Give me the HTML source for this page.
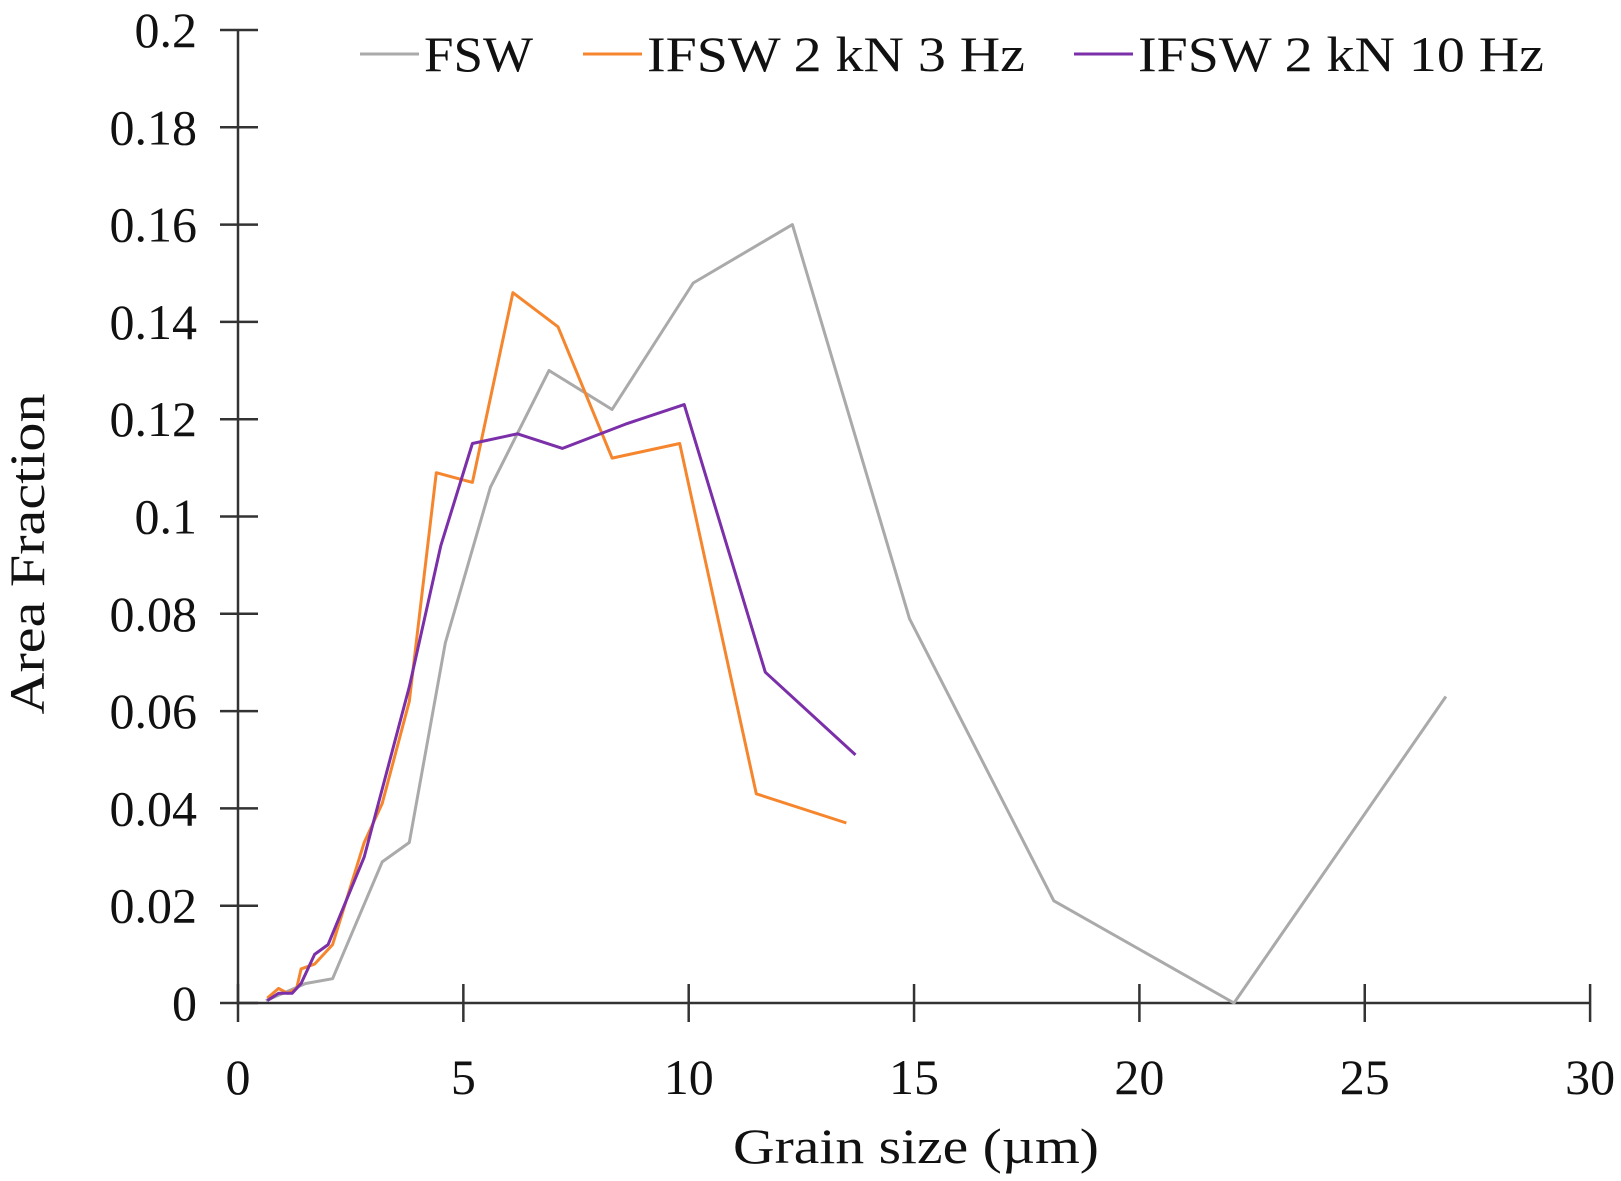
<!DOCTYPE html>
<html><head><meta charset="utf-8"><style>
html,body{margin:0;padding:0;background:#fff}
svg{display:block}
text{font-family:"Liberation Serif",serif;fill:#111}
</style></head><body>
<svg id="s" width="1621" height="1181" viewBox="0 0 1621 1181" xmlns="http://www.w3.org/2000/svg">
<g id="axes" stroke="#333" stroke-width="2.5" fill="none"></g>
<g id="lab" font-size="50"></g>
<g id="ser" fill="none" stroke-width="3" stroke-linejoin="round"></g>
<text x="733" y="1163" font-size="50" textLength="366" lengthAdjust="spacingAndGlyphs">Grain size (µm)</text>
<text transform="translate(44,554) rotate(-90)" font-size="50" text-anchor="middle" textLength="321" lengthAdjust="spacingAndGlyphs">Area Fraction</text>
<line x1="360" y1="54" x2="419" y2="54" stroke="#aaaaaa" stroke-width="3"/>
<text x="424" y="71" font-size="50" textLength="109" lengthAdjust="spacingAndGlyphs">FSW</text>
<line x1="583" y1="54" x2="642" y2="54" stroke="#f5862e" stroke-width="3"/>
<text x="647" y="71" font-size="50" textLength="378" lengthAdjust="spacingAndGlyphs">IFSW 2 kN 3 Hz</text>
<line x1="1074" y1="54" x2="1133" y2="54" stroke="#7b2fa8" stroke-width="3"/>
<text x="1138" y="71" font-size="50" textLength="406" lengthAdjust="spacingAndGlyphs">IFSW 2 kN 10 Hz</text>
</svg>
<script>
const X=x=>238+45.07*x, Y=y=>1003-4865*y;
const ax=document.getElementById('axes'), lab=document.getElementById('lab'), ser=document.getElementById('ser');
let h='';
h+=`<line x1="238" y1="30" x2="238" y2="1003"/><line x1="238" y1="1003" x2="1590" y2="1003"/>`;
let l='';
for(let i=0;i<=10;i++){const y=Y(i*0.02);h+=`<line x1="220" y1="${y}" x2="258" y2="${y}"/>`;
 const t=i==0?'0':i==10?'0.2':i==5?'0.1':(i*0.02).toFixed(2).replace(/0$/,'');
 l+=`<text x="197" y="${y+17}" text-anchor="end">${t}</text>`;}
for(let i=0;i<=6;i++){const x=X(i*5);h+=`<line x1="${x}" y1="984" x2="${x}" y2="1022"/>`;
 l+=`<text x="${x}" y="1094" text-anchor="middle">${i*5}</text>`;}
ax.innerHTML=h;lab.innerHTML=l;
const S=[
['#aaaaaa',[[0.62,0.0005],[1,0.002],[1.5,0.004],[2.1,0.005],[3.2,0.029],[3.8,0.033],[4.6,0.074],[5.6,0.106],[6.9,0.130],[8.3,0.122],[10.1,0.148],[12.3,0.160],[14.9,0.079],[18.1,0.021],[22.1,0],[26.8,0.063]]],
['#f5862e',[[0.65,0.001],[0.9,0.003],[1.1,0.002],[1.3,0.003],[1.4,0.007],[1.7,0.008],[2.1,0.012],[2.8,0.033],[3.2,0.041],[3.8,0.062],[4.4,0.109],[5.2,0.107],[6.1,0.146],[7.1,0.139],[8.3,0.112],[9.8,0.115],[11.5,0.043],[13.5,0.037]]],
['#7b2fa8',[[0.65,0.0005],[0.9,0.002],[1.2,0.002],[1.4,0.004],[1.7,0.010],[2.0,0.012],[2.8,0.030],[3.8,0.065],[4.5,0.094],[5.2,0.115],[6.2,0.117],[7.2,0.114],[8.6,0.119],[9.9,0.123],[11.7,0.068],[13.7,0.051]]]];
let s='';
for(const [c,p] of S) s+=`<polyline stroke="${c}" points="${p.map(q=>X(q[0]).toFixed(1)+','+Y(q[1]).toFixed(1)).join(' ')}"/>`;
ser.innerHTML=s;
</script>
</body></html>
